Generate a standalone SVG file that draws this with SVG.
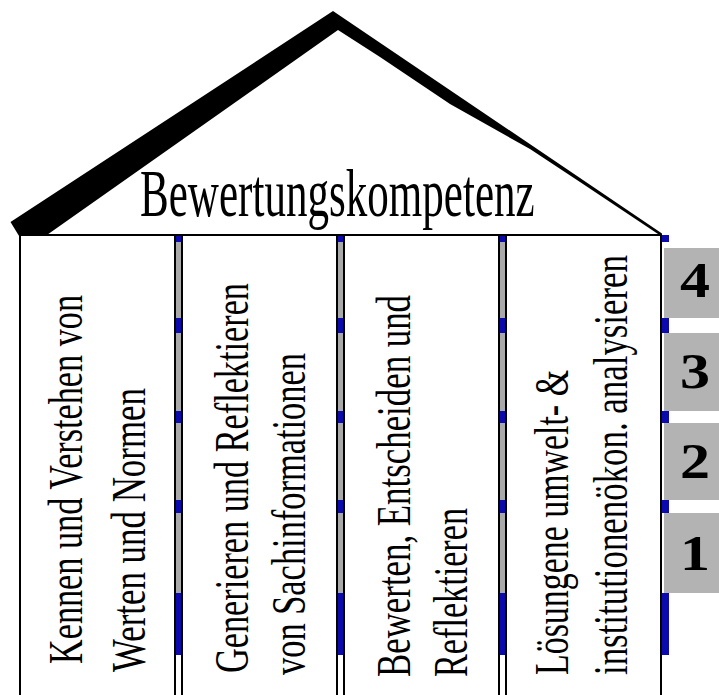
<svg xmlns="http://www.w3.org/2000/svg" width="719" height="695" viewBox="0 0 719 695">
<style>
.col{fill:#ffffff;stroke:#000;stroke-width:2}
.sep{fill:#a9a9a9}
.blue{fill:#0a0aae}
.lvl{fill:#b3b3b3}
.ct{font-family:"Liberation Serif",serif;font-size:49px;fill:#000}
.num{font-family:"Liberation Serif",serif;font-size:50px;font-weight:bold;fill:#000;text-anchor:middle}
.title{font-family:"Liberation Serif",serif;font-size:67px;fill:#000}
</style>
<rect width="719" height="695" fill="#fff"/>
<g id="roof">
<polygon points="10.5,222 333,11 662,233.5 661,236 580,182 530,149 450,104 380,57 338,30 27,249" fill="#000"/>
</g>
<g id="title">
<text class="title" transform="translate(140,216) scale(0.643,1)" x="0" y="0">Bewertungskompetenz</text>
</g>
<g id="connectors">
<line x1="40" y1="235" x2="662" y2="235" stroke="#000" stroke-width="2"/>
</g>
<g id="separators">
<rect class="sep" x="176" y="236" width="5" height="419"/>
<rect class="sep" x="338" y="236" width="5" height="419"/>
<rect class="sep" x="500" y="236" width="5" height="419"/>
<g class="blue">
<rect x="176" y="236" width="5" height="6"/><rect x="176" y="318" width="5" height="15"/><rect x="176" y="411" width="5" height="12"/><rect x="176" y="500" width="5" height="13"/><rect x="176" y="593" width="5" height="62"/>
<rect x="338" y="236" width="5" height="6"/><rect x="338" y="318" width="5" height="15"/><rect x="338" y="411" width="5" height="12"/><rect x="338" y="500" width="5" height="13"/><rect x="338" y="593" width="5" height="62"/>
<rect x="500" y="236" width="5" height="6"/><rect x="500" y="318" width="5" height="15"/><rect x="500" y="411" width="5" height="12"/><rect x="500" y="500" width="5" height="13"/><rect x="500" y="593" width="5" height="62"/>
<rect x="662" y="235" width="7" height="7"/><rect x="662" y="318" width="7" height="15"/><rect x="662" y="411" width="7" height="12"/><rect x="662" y="500" width="7" height="13"/><rect x="662" y="593" width="7" height="62"/>
</g>
</g>
<g id="col1">
<rect class="col" x="20" y="235" width="155" height="470"/>
<text class="ct" transform="translate(82,664) rotate(-90)" textLength="369" lengthAdjust="spacingAndGlyphs">Kennen und Verstehen von</text>
<text class="ct" transform="translate(145,672) rotate(-90)" textLength="284" lengthAdjust="spacingAndGlyphs">Werten und Normen</text>
</g>
<g id="col2">
<rect class="col" x="182" y="235" width="155" height="470"/>
<text class="ct" transform="translate(248,673) rotate(-90)" textLength="390" lengthAdjust="spacingAndGlyphs">Generieren und Reflektieren</text>
<text class="ct" transform="translate(305,675) rotate(-90)" textLength="322" lengthAdjust="spacingAndGlyphs">von Sachinformationen</text>
</g>
<g id="col3">
<rect class="col" x="344" y="235" width="155" height="470"/>
<text class="ct" transform="translate(410,677) rotate(-90)" textLength="382" lengthAdjust="spacingAndGlyphs">Bewerten, Entscheiden und</text>
<text class="ct" transform="translate(467,677) rotate(-90)" textLength="169" lengthAdjust="spacingAndGlyphs">Reflektieren</text>
</g>
<g id="col4">
<rect class="col" x="506" y="235" width="155" height="470"/>
<text class="ct" transform="translate(568,675) rotate(-90)" textLength="305" lengthAdjust="spacingAndGlyphs">Lösungene umwelt- &amp;</text>
<text class="ct" transform="translate(627,675) rotate(-90)" textLength="420" lengthAdjust="spacingAndGlyphs">institutionenökon. analysieren</text>
</g>
<g id="level4"><rect class="lvl" x="664" y="248" width="55" height="70"/><text class="num" x="695" y="297" textLength="30" lengthAdjust="spacingAndGlyphs">4</text></g>
<g id="level3"><rect class="lvl" x="664" y="333" width="55" height="78"/><text class="num" x="695" y="388" textLength="30" lengthAdjust="spacingAndGlyphs">3</text></g>
<g id="level2"><rect class="lvl" x="664" y="423" width="55" height="77"/><text class="num" x="695" y="478" textLength="30" lengthAdjust="spacingAndGlyphs">2</text></g>
<g id="level1"><rect class="lvl" x="664" y="513" width="55" height="80"/><text class="num" x="695" y="570" textLength="30" lengthAdjust="spacingAndGlyphs">1</text></g>
</svg>
